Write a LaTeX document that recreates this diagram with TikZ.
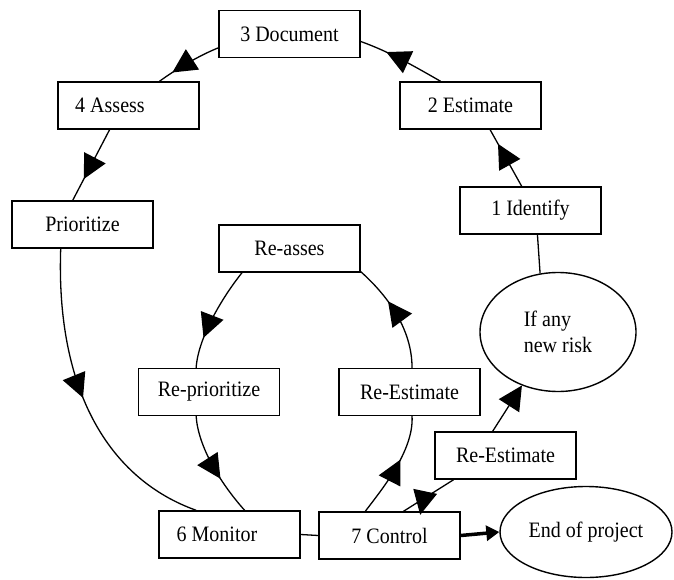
\documentclass[tikz,border=0pt]{standalone}
\usepackage{fontspec}
\setmainfont{Liberation Serif}[FakeStretch=0.91]
\usetikzlibrary{arrows.meta,shapes.geometric,decorations.markings}

\begin{document}
\begin{tikzpicture}[x=1pt,y=-1pt,
  every node/.style={font=\fontsize{22}{26.5}\selectfont},
  box/.style={draw, line width=1.4pt, minimum width=141pt, minimum height=47pt, inner sep=0pt},
  oval/.style={draw, ellipse, line width=1.4pt, inner sep=0pt},
  link/.style={line width=1.3pt},
  bigtip/.tip={Triangle[length=24pt,width=24pt]},
  midarrow/.style={postaction={decorate}, decoration={markings,
      mark=at position #1 with {\arrow{bigtip}}}},
]
\useasboundingbox (0,0) rectangle (674,580);

% process steps of the outer loop
\node[box] (doc)    at (289.5,34)   {3 Document};
\node[box] (assess) at (128.5,105.5){4 Assess\hspace*{37pt}};
\node[box] (prio)   at (82.5,224.5) {Prioritize};
\node[box] (est)    at (470.5,105.5){2 Estimate};
\node[box] (ident)  at (530.5,210.5){1 Identify};
\node[oval, minimum width=156pt, minimum height=119pt, align=left] (newrisk) at (558,332) {If any\\new risk};

% review loop
\node[box] (reasses) at (289.5,248.5) {Re-asses};
\node[box] (reprio)  at (209,392)     {Re-prioritize};
\node[box] (reestin) at (409.5,392)   {Re-Estimate};
\node[box] (reestout) at (505.5,455.5){Re-Estimate};

% bottom row
\node[box] (monitor) at (229.5,534.5) {6 Monitor\hspace*{25pt}};
\node[box] (control) at (389.5,535.5) {7 Control};
\node[oval, minimum width=172pt, minimum height=91pt] (end) at (586,532) {End of project};

% outer loop connectors
\draw[link, midarrow=0.75] (ident.110) -- (est.-51.5);
\draw[link, midarrow=0.69] (est.141.5) .. controls +(-28,-16) and +(28,10) .. (doc.-6.5);
\draw[link, midarrow=0.77] (doc.-169.6) .. controls +(-20,8) and +(15,-11) .. (assess.38.5);
\draw[link, midarrow=0.7] (assess.-128.2) -- (prio.112);
\draw[link, midarrow=0.48] (prio.-132.5) .. controls +(-5,142) and +(-87,-31) .. (monitor.144);

% review loop connectors
\draw[link, midarrow=0.71]  (reasses.-153.2) .. controls +(-20,25) and +(2,-30) .. (reprio.118.4);
\draw[link, midarrow=0.63] (reprio.-118.4) .. controls +(2,30) and +(-25,-28) .. (monitor.58.3);
\draw[link, midarrow=0.58] (control.135) .. controls +(15,-20) and +(2,35) .. (reestin.-84);
\draw[link, midarrow=0.64] (reestin.84) .. controls +(0,-38) and +(28,25) .. (reasses.-18);

\draw[link] (monitor.east) -- (control.west);
\draw[link, postaction={decorate}, decoration={markings,
    mark=at position 0.5 with {\pgftransformshift{\pgfpoint{17.4pt}{11.9pt}}\pgftransformrotate{45.8}\arrow{bigtip}}}]
  (reestout.-155.9) -- (control.60);
\draw[link, -{bigtip}] (reestout.118) -- (newrisk.-124);
\draw[link] (newrisk.107) -- (ident.-74.5);
\draw[line width=3.5pt, -{Triangle[length=13pt,width=15pt]}] (control.east) -- (end.west);
\end{tikzpicture}
\end{document}
